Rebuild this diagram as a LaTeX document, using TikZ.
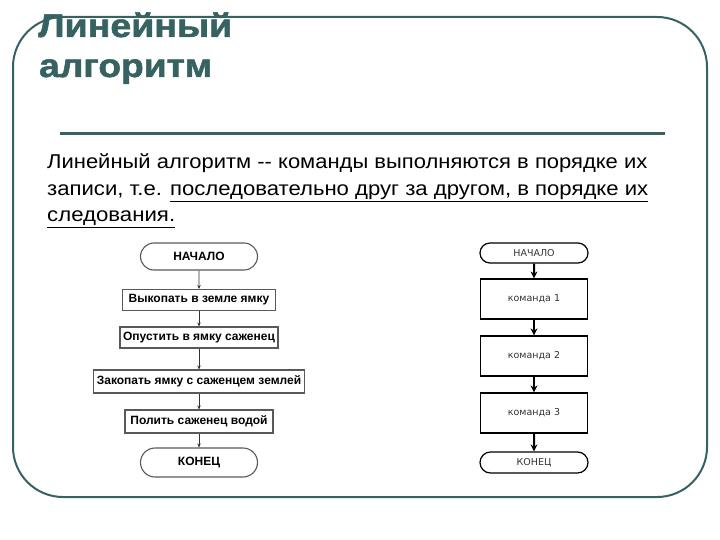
\documentclass[tikz,border=0pt]{standalone}
\usepackage{fontspec}
\setmainfont{Liberation Sans}
\newfontfamily\boxfont{DejaVu Sans}
\newfontfamily\titlefont[FakeBold=1.5]{Liberation Sans Bold}
\usepackage{graphicx}
\usetikzlibrary{shapes.misc, arrows.meta, positioning}
\definecolor{slate}{RGB}{55,98,98}
\newcommand{\fitline}[2]{\resizebox{#1}{\height}{#2}}
\tikzstyle{tbox} = [rectangle, minimum height=21pt, inner sep=0pt, text centered, draw=black!65, line width=1.1pt, fill=white, font=\fontsize{12}{14}\selectfont\bfseries]
\tikzstyle{tterm} = [rounded rectangle, minimum height=27pt, minimum width=117pt, inner sep=0pt, draw=black!65, line width=1.1pt, fill=white, font=\fontsize{12}{14}\selectfont\bfseries]
\tikzstyle{cbox} = [rectangle, minimum width=107pt, minimum height=40pt, inner sep=0pt, draw=black, line width=1.2pt, fill=white, font=\boxfont\fontsize{9.5}{11}\selectfont, text=black!80]
\tikzstyle{cterm} = [rounded rectangle, minimum width=108pt, minimum height=20pt, inner sep=0pt, draw=black, line width=1.2pt, fill=white, font=\boxfont\fontsize{9.5}{11}\selectfont, text=black!80]
\tikzstyle{thin arrow} = [-{Stealth[length=4pt,width=3.5pt]}, line width=0.8pt, black!80]
\tikzstyle{thick arrow} = [-{Stealth[length=7pt,width=7pt]}, line width=2pt]

\begin{document}
\begin{tikzpicture}[x=1pt, y=-1pt]

    \useasboundingbox (0,0) rectangle (720,540);

    % frame and rule
    \draw [slate, line width=2pt, rounded corners=50pt] (13,17) rectangle (707,497);
    \draw [slate, line width=3pt] (60,134) -- (665,134);

    % title
    \node (title1) [anchor=base west, inner sep=0pt, text=slate, font=\titlefont\fontsize{33}{36}\selectfont] at (38,37) {\fitline{194pt}{Линейный}};
    \node (title2) [anchor=base west, inner sep=0pt, text=slate, font=\titlefont\fontsize{33}{36}\selectfont] at (39,77) {\fitline{173pt}{алгоритм}};

    % definition
    \node (line1) [anchor=base west, inner sep=0pt, font=\fontsize{20}{22}\selectfont] at (47,169) {\fitline{600pt}{Линейный алгоритм -{}- команды выполняются в порядке их}};
    \node (line2) [anchor=base west, inner sep=0pt, font=\fontsize{20}{22}\selectfont] at (47,195.5) {\fitline{601pt}{записи, т.е. \underline{последовательно друг за другом, в порядке их}}};
    \node (line3) [anchor=base west, inner sep=0pt, font=\fontsize{20}{22}\selectfont] at (47,222) {\fitline{128pt}{\underline{следования.}}};

    % left flowchart
    \node (start) [tterm] at (199,256.5) {НАЧАЛО};
    \node (dig) [tbox, minimum width=153pt] at (199,300) {Выкопать в земле ямку};
    \node (put) [tbox, minimum width=158pt] at (199,337.5) {Опустить в ямку саженец};
    \node (bury) [tbox, minimum width=211pt, minimum height=23pt] at (199,381.5) {Закопать ямку с саженцем землей};
    \node (water) [tbox, minimum width=148pt, minimum height=23pt] at (199,421.5) {Полить саженец водой};
    \node (stop) [tterm, minimum height=29pt] at (199,462.5) {КОНЕЦ};

    \draw [thin arrow] (start) -- (dig);
    \draw [thin arrow] (dig) -- (put);
    \draw [thin arrow] (put) -- (bury);
    \draw [thin arrow] (bury) -- (water);
    \draw [thin arrow] (water) -- (stop);

    % right flowchart
    \node (begin) [cterm] at (534,253) {НАЧАЛО};
    \node (cmd1) [cbox] at (534,299) {команда 1};
    \node (cmd2) [cbox] at (534,356) {команда 2};
    \node (cmd3) [cbox] at (534,413) {команда 3};
    \node (finish) [cterm, minimum height=21pt] at (534,462.5) {КОНЕЦ};

    \draw [thick arrow] (begin) -- (cmd1);
    \draw [thick arrow] (cmd1) -- (cmd2);
    \draw [thick arrow] (cmd2) -- (cmd3);
    \draw [thick arrow] (cmd3) -- (finish);

\end{tikzpicture}
\end{document}
